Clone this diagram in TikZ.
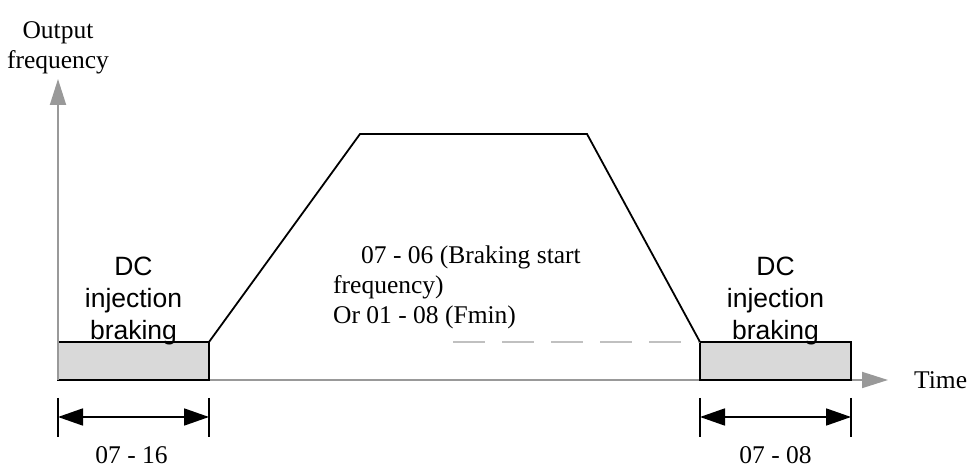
\documentclass[tikz,border=0pt]{standalone}
\usepackage{fontspec}
\setmainfont{Liberation Serif}
\setsansfont{Liberation Sans}
\usetikzlibrary{arrows.meta,calc,positioning}
\definecolor{axisgray}{HTML}{999999}
\definecolor{boxgray}{HTML}{D9D9D9}
\definecolor{dashgray}{HTML}{C0C0C0}

\begin{document}
\begin{tikzpicture}[x=1pt,y=1pt,
  axisline/.style={draw=axisgray,line width=1.8pt,-{Triangle[length=26pt,width=16pt]}},
  brakebox/.style={draw,line width=1.8pt,fill=boxgray,minimum width=151pt,minimum height=38pt,inner sep=0pt,outer sep=0pt,anchor=south west},
  brakelabel/.style={font=\sffamily\fontsize{26.5}{32}\selectfont,align=center,inner sep=0pt},
  plainlabel/.style={font=\fontsize{25.5}{30}\selectfont,inner sep=0pt},
  speedline/.style={line width=1.8pt},
  startdash/.style={draw=dashgray,line width=1.6pt,dash pattern=on 32pt off 17pt},
  dimline/.style={line width=1.8pt,{Triangle[length=25pt,width=17pt]}-{Triangle[length=25pt,width=17pt]}},
  tickline/.style={line width=1.8pt}]
  \useasboundingbox (0,0) rectangle (968,468);

  % axes
  \coordinate (O) at (58,88);
  \coordinate (ytip) at (58,389);
  \coordinate (xtip) at (888,88);
  \draw[axisline] (O) -- (xtip);

  % braking boxes
  \node[brakebox] (lbox) at (58,88) {};
  \node[brakebox] (rbox) at (700,88) {};
  \draw[axisline] (O) -- (ytip);

  \node[brakelabel,above=-3pt of lbox] (ltxt) {DC\\injection\\braking};
  \node[brakelabel,above=-3pt of rbox] (rtxt) {DC\\injection\\braking};

  % frequency curve
  \coordinate (ramp1) at (360,334);
  \coordinate (ramp2) at (587,334);
  \coordinate (fstart) at (453,126);
  \draw[startdash] (fstart |- rbox.north west) -- (rbox.north west);
  \draw[speedline] (lbox.north east) -- (ramp1) -- (ramp2) -- (rbox.north west);

  \node[plainlabel,align=left,anchor=north west] (starttxt) at (333,222)
    {\hspace*{28pt}07 - 06 (Braking start\\frequency)\\Or 01 - 08 (Fmin)};

  % axis labels
  \node[plainlabel,align=center,above=5pt of ytip] (ylabel) {Output\\frequency};
  \node[plainlabel,right=26pt of xtip] (xlabel) {Time};

  % braking times
  \foreach \b in {lbox,rbox} {
    \draw[tickline] ($(\b.south west)+(0,-18)$) -- ++(0,-39);
    \draw[tickline] ($(\b.south east)+(0,-18)$) -- ++(0,-39);
    \draw[dimline] ($(\b.south west)+(0,-37)$) -- ($(\b.south east)+(0,-37)$);
  }
  \node[plainlabel,anchor=north] (ltime) at ($(lbox.south)+(-2,-66)$) {07 - 16};
  \node[plainlabel,anchor=north] (rtime) at ($(rbox.south)+(0,-66)$) {07 - 08};
\end{tikzpicture}
\end{document}
